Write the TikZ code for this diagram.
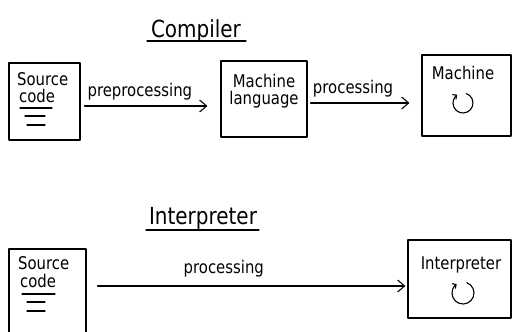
\documentclass[tikz,border=0pt]{standalone}
\usepackage{fontspec}
\setmainfont{DejaVu Sans}[FakeStretch=0.85]
\usetikzlibrary{arrows.meta}
\begin{document}
\begin{tikzpicture}[x=1pt,y=-1pt,
  pen/.style={line width=1.1pt,line cap=round,line join=round},
  box/.style={pen,draw,rectangle,inner sep=0pt},
  arr/.style={pen,-{Straight Barb[length=7pt,width=12pt,line width=1.1pt]}},
  lbl/.style={font=\fontsize{17.5}{19}\selectfont,inner sep=0pt,anchor=base},
  ttl/.style={font=\fontsize{23.5}{25}\selectfont,inner sep=0pt,anchor=base},
  loop/.style={pen,-{Straight Barb[length=3pt,width=6pt,line width=1.1pt]}}]
\clip (0,0) rectangle (512,332);
\fill[white] (0,0) rectangle (512,332);

% ---------- Compiler ----------
\node[ttl] (tc) at (196,37) {Compiler};
\coordinate (tcl) at (147,41);
\coordinate (tcr) at (246,41);
\draw[pen] (tcl) -- (tcr);

\node[box,minimum width=71pt,minimum height=77pt] (b1) at (44.5,101.5) {};
\node[lbl,anchor=base west] (s1) at (17,85) {Source};
\node[lbl,anchor=base west] (c1) at (19,102) {code};
\coordinate (u1a) at (20,108); \coordinate (u1b) at (52,108);
\coordinate (u2a) at (25,116); \coordinate (u2b) at (45,116);
\coordinate (u3a) at (27,125); \coordinate (u3b) at (45,125);
\draw[pen] (u1a) -- (u1b) (u2a) -- (u2b) (u3a) -- (u3b);

\node[box,minimum width=86pt,minimum height=76pt] (b2) at (264,99) {};
\node[lbl] (m2) at (264,87) {Machine};
\node[lbl] (l2) at (264,104) {language};

\node[box,minimum width=89pt,minimum height=81pt] (b3) at (466.5,95.5) {};
\node[lbl] (m3) at (463,79) {Machine};
\coordinate (o3) at (463,103);
\draw[loop] ([shift={(70:10pt)}]o3) arc[start angle=70,end angle=-235,radius=10pt];

\draw[arr] ([xshift=4pt,yshift=-4.5pt]b1.east) -- ([xshift=-13pt,yshift=-7pt]b2.west)
  node[lbl,pos=0.45,yshift=10pt] (p1) {preprocessing};
\draw[arr] ([xshift=3pt,yshift=-4pt]b2.east) -- ([xshift=-12pt,yshift=-7.5pt]b3.west)
  node[lbl,pos=0.43,yshift=10pt] (p2) {processing};

% ---------- Interpreter ----------
\node[ttl] (ti) at (203,224) {Interpreter};
\coordinate (til) at (146,230);
\coordinate (tir) at (259,230);
\draw[pen] (til) -- (tir);

\node[box,minimum width=77pt,minimum height=87pt] (b4) at (47.5,292.5) {};
\node[lbl,anchor=base west] (s4) at (18,269) {Source};
\node[lbl,anchor=base west] (c4) at (20,287) {code};
\coordinate (v1a) at (22,294); \coordinate (v1b) at (55,294);
\coordinate (v2a) at (27,302); \coordinate (v2b) at (45,302);
\coordinate (v3a) at (27,311); \coordinate (v3b) at (45,311);
\draw[pen] (v1a) -- (v1b) (v2a) -- (v2b) (v3a) -- (v3b);

\node[box,minimum width=103pt,minimum height=78pt] (b5) at (459.5,279) {};
\node[lbl] (i5) at (461,269) {Interpreter};
\coordinate (o5) at (463,293);
\draw[loop] ([shift={(70:11pt)}]o5) arc[start angle=70,end angle=-235,radius=11pt];

\draw[arr] ([xshift=11pt,yshift=6.5pt]b4.east) -- ([xshift=-2pt,yshift=-7pt]b5.west)
  node[lbl,pos=0.41,yshift=13pt] (p3) {processing};
\end{tikzpicture}
\end{document}
